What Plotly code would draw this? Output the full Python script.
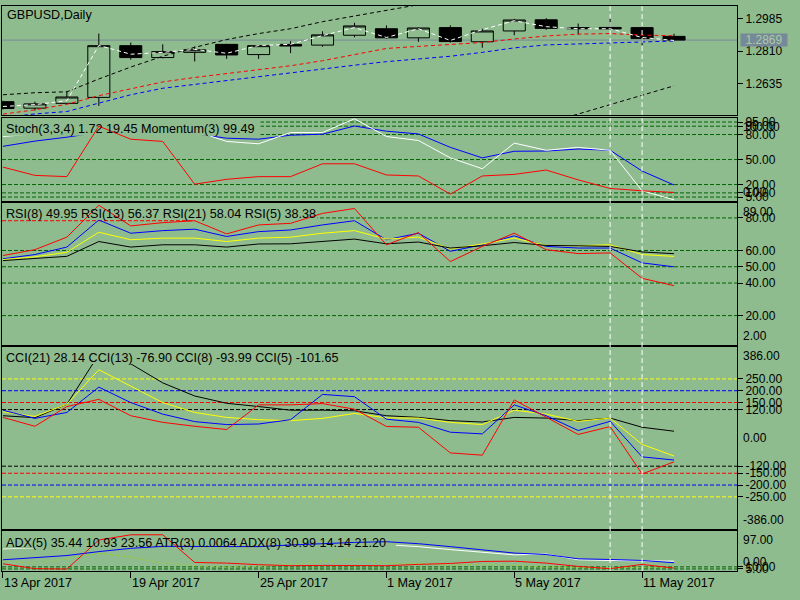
import plotly.graph_objects as go

# ---- data ----
days = ["13 Apr", "14 Apr", "17 Apr", "18 Apr", "19 Apr", "20 Apr", "21 Apr",
        "24 Apr", "25 Apr", "26 Apr", "27 Apr", "28 Apr", "1 May", "2 May",
        "3 May", "4 May", "5 May", "8 May", "9 May", "10 May", "11 May", "12 May"]
date_ticks = [0, 4, 8, 12, 16, 20]
marked_bars = [19, 20]

open_ = [1.2538, 1.2503, 1.2529, 1.2561, 1.2839, 1.2775, 1.2803, 1.2846, 1.2791, 1.2846, 1.2842,
         1.2895, 1.2930, 1.2881, 1.2936, 1.2860, 1.2918, 1.2978, 1.2936, 1.2937, 1.2936, 1.2889]
high = [1.2543, 1.2538, 1.2595, 1.2904, 1.2856, 1.2846, 1.2835, 1.2849, 1.2842, 1.2863, 1.2916,
        1.2962, 1.2948, 1.2937, 1.2948, 1.2930, 1.2983, 1.2987, 1.2958, 1.2987, 1.2945, 1.2903]
low = [1.2496, 1.2490, 1.2524, 1.2515, 1.2764, 1.2771, 1.2754, 1.2768, 1.2768, 1.2799, 1.2833,
       1.2884, 1.2877, 1.2860, 1.2856, 1.2828, 1.2895, 1.2924, 1.2899, 1.2927, 1.2842, 1.2866]
close = [1.2501, 1.2526, 1.2563, 1.2839, 1.2775, 1.2807, 1.2817, 1.2789, 1.2839, 1.2837, 1.2897,
         1.2945, 1.2881, 1.2934, 1.2861, 1.2918, 1.2977, 1.2932, 1.2930, 1.2929, 1.2877, 1.2869]
last_price = 1.2869

ma_white = [1.2512, 1.2522, 1.2543, 1.2840, 1.2793, 1.2803, 1.2819, 1.2798, 1.2840, 1.2846, 1.2893,
            1.2936, 1.2883, 1.2930, 1.2867, 1.2925, 1.2973, 1.2941, 1.2930, 1.2930, 1.2883, 1.2867]
band_upper = [1.2575, 1.2586, 1.2591, 1.2660, 1.2724, 1.2782, 1.2830, 1.2872, 1.2904, 1.2930, 1.2968,
              1.2999, 1.3031, 1.3059] + [None] * 8
band_lower = [None] * 17 + [1.2421, 1.2472, 1.2522, 1.2572, 1.2623]
ma_red = [1.2471, 1.2494, 1.2524, 1.2570, 1.2607, 1.2644, 1.2668, 1.2689, 1.2709, 1.2731, 1.2758,
          1.2793, 1.2824, 1.2835, 1.2846, 1.2856, 1.2875, 1.2891, 1.2901, 1.2904, 1.2896, 1.2892]
ma_blue = [1.2453, 1.2472, 1.2485, 1.2530, 1.2575, 1.2610, 1.2631, 1.2652, 1.2673, 1.2695, 1.2716,
           1.2734, 1.2753, 1.2769, 1.2782, 1.2803, 1.2827, 1.2843, 1.2848, 1.2854, 1.2856, 1.2864]

stoch_main = [77.6, 80.8, None, None, None, None, 84.4, 71.7, 68.9, 82.4, 82.4,
              98.9, 77.6, 72.9, 52.0, 39.0, 69.7, 61.1, 64.6, 61.1, 12.5, 1.72]
stoch_signal = [65.8, 72.1, 76.8, 82.6, None, None, 81.0, 75.6, 74.4, 79.2, 80.4,
                90.2, 84.0, 80.7, 64.6, 52.0, 59.9, 60.2, 62.6, 61.1, 36.2, 19.45]
momentum = [40.9, 31.0, 29.5, 90.0, 74.4, 71.7, 20.4, 26.3, 29.5, 29.5, 44.9,
            44.9, 31.5, 30.3, 8.5, 30.3, 32.2, 37.4, 25.6, 15.3, 12.5, 10.5]

rsi8 = [54.9, 57.5, 62.1, 78.7, 70.6, 72.2, 73.1, 68.6, 71.6, 72.6, 75.7,
        78.3, 66.6, 70.6, 59.5, 63.5, 69.0, 62.5, 61.5, 61.5, 52.4, 49.95]
rsi13 = [54.4, 56.1, 58.9, 71.2, 66.6, 67.6, 67.6, 65.5, 67.6, 68.2, 70.6,
         72.2, 67.0, 68.2, 60.9, 64.0, 67.6, 63.1, 62.9, 63.5, 57.5, 56.37]
rsi21 = [53.8, 55.2, 56.4, 65.5, 62.1, 63.5, 63.5, 62.1, 64.0, 64.1, 65.5,
         67.0, 64.1, 65.2, 61.5, 62.9, 64.9, 63.1, 62.9, 62.5, 59.1, 58.04]
rsi5 = [56.9, 60.5, 68.2, 87.8, 75.1, 77.1, 78.3, 70.2, 75.7, 76.7, 82.8,
        85.8, 63.5, 71.0, 53.2, 62.5, 70.6, 60.5, 58.1, 58.5, 42.9, 38.38]

cci21 = [94.0, 85.6, 142.5, 353.8, 314.0, 233.3, 177.6, 146.7, 132.9, 117.4, 117.4,
         114.9, 94.0, 86.8, 73.0, 67.2, 86.8, 83.9, 73.0, 83.9, 45.0, 28.14]
cci13 = [110.7, 91.0, 142.5, 288.9, 219.5, 149.6, 107.8, 86.8, 77.2, 73.0, 82.7,
         103.6, 84.8, 83.9, 65.9, 56.3, 117.4, 100.7, 70.1, 83.9, -27.4, -76.90]
cci8 = [117.4, 82.7, 107.8, 215.3, 149.6, 100.7, 68.9, 56.3, 58.8, 77.2, 184.3,
        174.7, 79.3, 65.9, 24.1, 17.0, 140.0, 94.0, 31.2, 70.1, -80.5, -93.99]
cci5 = [86.8, 49.2, 132.9, 163.4, 94.0, 65.9, 49.2, 35.4, 140.0, 140.0, 145.4,
        121.6, 48.4, 45.0, -63.8, -73.4, 160.9, 86.8, 14.5, 47.9, -152.9, -101.65]

adx_white = [53.4, 55.9] + [None] * 10 + [63.6, 58.9, 51.7, 44.6, 39.1, 41.0, 27.2, 25.5, 24.3, 23.8]
adx_blue = [27.2, 31.9, 37.4, 46.9, 54.8, 59.6, 58.9, 58.9, 58.9, 62.9, 66.7,
            69.1, 70.8, 66.0, 58.9, 51.7, 43.4, 39.8, 29.5, 27.9, 25.5, 20.0]
adx_red = [17.6, 5.7, 4.8, 74.8, 87.5, 87.5, 20.7, 19.1, 15.3, 12.9, 13.6,
           13.6, 12.9, 16.0, 18.3, 23.1, 23.8, 19.1, 11.2, 5.7, 16.0, 7.1]
atr_line = [23.8, 19.1, 29.5, 42.9, 33.4, 19.1, 12.9, 9.5, 11.2, 16.0, 23.8,
            29.5, 19.1, 18.3, 13.6, 16.0, 13.6, 10.0, 8.8, 7.6, 8.8, 8.8]

price_ticks = [1.2985, 1.2810, 1.2635]
stoch_levels = [95, 90, 80, 50, 20, 10, 5]
rsi_levels = [80, 60, 50, 40, 20]
cci_levels = [250, 200, 150, 120, -120, -150, -200, -250]
adx_levels = [10, 5]

# ---- style ----
BG = "#8FBC8F"
FONT = "Liberation Sans"
LEVEL_GREEN = "#006400"
CCI_LEVEL_COLORS = {250: "#FFFF00", 200: "#0000FF", 150: "#FF0000", 120: "#000000"}
W, H = 800, 600
X0, X1 = 2, 737          # plot area in pixels
XMIN, XMAX = -0.03, 22.97
panels = {               # (top px, bottom px, y-range)
    1: (3, 114, [1.24637, 1.30524]),
    2: (116.4, 200.9, [0, 100]),
    3: (203, 346.5, [2, 89]),
    4: (348.5, 533, [-386, 386]),
    5: (535, 575.7, [0, 97]),
}
bars = list(range(len(days)))


def ax(k, kind):
    return kind if k == 1 else f"{kind}{k}"


fig = go.Figure()


def line(k, y, color, dash=None, width=1):
    fig.add_trace(go.Scatter(x=bars, y=y, mode="lines", xaxis=ax(k, "x"), yaxis=ax(k, "y"),
                             line=dict(color=color, width=width, dash=dash),
                             hoverinfo="skip", showlegend=False))


def label_backing(k, x_end, y0, y1):
    # the indicator caption hides the first indicator's lines
    fig.add_trace(go.Scatter(x=[XMIN, x_end, x_end, XMIN, XMIN], y=[y0, y0, y1, y1, y0],
                             mode="lines", fill="toself", fillcolor=BG, line=dict(width=0),
                             xaxis=ax(k, "x"), yaxis=ax(k, "y"), hoverinfo="skip", showlegend=False))


# main chart
fig.add_trace(go.Candlestick(
    x=bars, open=open_, high=high, low=low, close=close, whiskerwidth=0,
    increasing=dict(line=dict(color="black", width=1), fillcolor=BG),
    decreasing=dict(line=dict(color="black", width=1), fillcolor="black"),
    showlegend=False, hoverinfo="skip"))
dash_ma = "4px,3px"
line(1, band_upper, "black", dash_ma)
line(1, band_lower, "black", dash_ma)
line(1, ma_red, "red", dash_ma)
line(1, ma_blue, "blue", dash_ma)
line(1, ma_white, "white", dash_ma)

# stochastic + momentum
line(2, stoch_signal, "blue")
line(2, stoch_main, "white")
label_backing(2, 8.06, 78.6, 100)
line(2, momentum, "red")

# rsi
line(3, rsi8, "blue")
label_backing(3, 9.84, 79.0, 89)
line(3, rsi13, "yellow")
line(3, rsi21, "black")
line(3, rsi5, "red")

# cci
line(4, cci21, "black")
label_backing(4, 10.4, 313, 386)
line(4, cci13, "yellow")
line(4, cci8, "blue")
line(4, cci5, "red")

# adx / atr
line(5, adx_white, "white")
label_backing(5, 12.3, 55.3, 97)
line(5, atr_line, "#9ACD32", "3px,3px")
line(5, adx_blue, "blue")
line(5, adx_red, "red")

# ---- axes ----
tickfont = dict(family=FONT, size=12, color="black")
layout = dict(width=W, height=H, margin=dict(l=0, r=0, t=0, b=0), showlegend=False,
              paper_bgcolor=BG, plot_bgcolor=BG, font=dict(family=FONT, size=12, color="black"),
              boxgap=0.31, boxgroupgap=0)
for k, (top, bot, yr) in panels.items():
    xa = dict(domain=[X0 / W, X1 / W], range=[XMIN, XMAX], anchor=ax(k, "y"),
              showline=True, mirror=True, linecolor="black", linewidth=1,
              showgrid=False, zeroline=False, showticklabels=False, ticks="",
              rangeslider=dict(visible=False))
    if k == 5:
        xa.update(ticks="outside", ticklen=6, tickcolor="black", tickvals=date_ticks)
    ya = dict(domain=[1 - bot / H, 1 - top / H], range=yr, anchor=ax(k, "x"), side="right",
              showline=True, mirror=True, linecolor="black", linewidth=1,
              showgrid=False, zeroline=False, ticks="outside", ticklen=5, tickcolor="black",
              tickfont=tickfont)
    layout["xaxis" if k == 1 else f"xaxis{k}"] = xa
    layout["yaxis" if k == 1 else f"yaxis{k}"] = ya

layout["yaxis"].update(tickvals=price_ticks, ticktext=[f"{v:.4f}" for v in price_ticks])
layout["yaxis2"].update(tickvals=stoch_levels, ticktext=[f"{v:.2f}" for v in stoch_levels])
layout["yaxis3"].update(tickvals=rsi_levels, ticktext=[f"{v:.2f}" for v in rsi_levels])
layout["yaxis4"].update(tickvals=cci_levels, ticktext=[f"{v:.2f}" for v in cci_levels])
layout["yaxis5"].update(tickvals=adx_levels, ticktext=[f"{v:.2f}" for v in adx_levels])
fig.update_layout(**layout)

# ---- level lines ----
dash_lvl = "4px,2px"
for k, levels in ((2, stoch_levels), (3, rsi_levels), (5, adx_levels)):
    for v in levels:
        fig.add_shape(type="line", xref=f"x{k} domain", x0=0, x1=1, yref=f"y{k}", y0=v, y1=v,
                      line=dict(color=LEVEL_GREEN, width=1, dash=dash_lvl), layer="below")
for v in cci_levels:
    fig.add_shape(type="line", xref="x4 domain", x0=0, x1=1, yref="y4", y0=v, y1=v,
                  line=dict(color=CCI_LEVEL_COLORS[abs(v)], width=1, dash=dash_lvl), layer="below")
fig.add_shape(type="line", xref="x3", x0=XMIN, x1=6.0, yref="y3", y0=78.3, y1=78.3,
              line=dict(color="red", width=1, dash=dash_lvl), layer="below")
fig.add_shape(type="line", xref="x domain", x0=0, x1=1, yref="y", y0=last_price, y1=last_price,
              line=dict(color="#778899", width=1), layer="below")
for b in marked_bars:
    fig.add_shape(type="line", xref="x", x0=b, x1=b, yref="paper",
                  y0=1 - panels[5][1] / H, y1=1 - panels[1][0] / H,
                  line=dict(color="white", width=1, dash="5px,3px"), layer="above")

# ---- texts ----
def note(text, x, y, xref="paper", yref="paper", xanchor="left", yanchor="middle", size=12, **kw):
    fig.add_annotation(text=text, x=x, y=y, xref=xref, yref=yref, xanchor=xanchor,
                       yanchor=yanchor, showarrow=False, font=dict(family=FONT, size=size,
                       color=kw.pop("color", "black")), **kw)


LBL = 12.6
note("GBPUSD,Daily", 5 / W, 1 - 12 / H, size=LBL)
note(f"Stoch(3,3,4) {stoch_main[-1]:.2f} {stoch_signal[-1]:.2f} Momentum(3) 99.49",
     4 / W, 1 - 128 / H, size=LBL)
note(f"RSI(8) {rsi8[-1]:.2f} RSI(13) {rsi13[-1]:.2f} RSI(21) {rsi21[-1]:.2f} RSI(5) {rsi5[-1]:.2f}",
     4 / W, 1 - 214 / H, size=LBL)
note(f"CCI(21) {cci21[-1]:.2f} CCI(13) {cci13[-1]:.2f} CCI(8) {cci8[-1]:.2f} CCI(5) {cci5[-1]:.2f}",
     4 / W, 1 - 360 / H, size=LBL)
note("ADX(5) 35.44 10.93 23.56 ATR(3) 0.0064 ADX(8) 30.99 14.14 21.20", 4 / W, 1 - 547 / H, size=LBL)

xr = 741 / W
for k in (2, 3, 4, 5):
    lo, hi = panels[k][2]
    note(f"{hi:.2f}", xr, 1, yref=f"y{k} domain", yanchor="top")
    note(f"{lo:.2f}", xr, 0, yref=f"y{k} domain", yanchor="bottom")
note("0.00", xr, 0, yref="y4", yanchor="middle")
note(f"{last_price:.4f}", 740 / W, last_price, yref="y", bgcolor="#778899",
     color="#A9CBA4", width=46, height=12, borderpad=0)

for i in date_ticks:
    note(f"{days[i]} 2017", i, 1 - 588 / H, xref="x5", xshift=-1, size=LBL)

# page body margin would shift the 800x600 figure inside the window
fig.write_html("out.html", config={"displayModeBar": False},
               post_script="document.body.style.margin = '0px';")
